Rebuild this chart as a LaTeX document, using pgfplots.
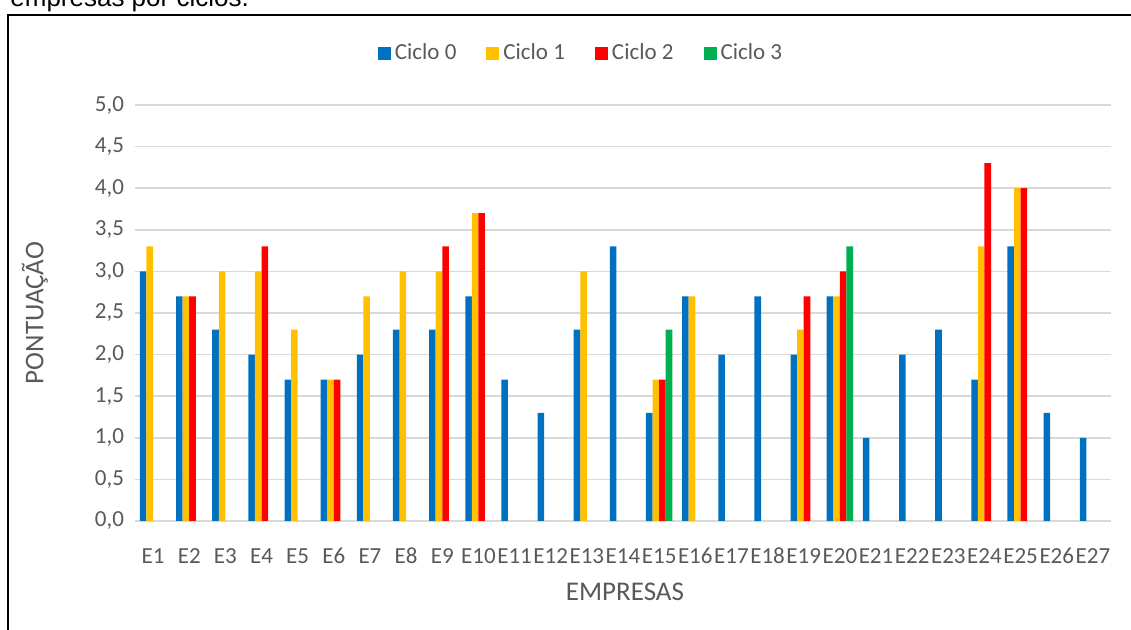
\documentclass[border=0pt]{standalone}
\usepackage{fontspec}
\setmainfont{Carlito}
\newfontfamily\arialfont{Liberation Sans}
\usepackage{pgfplots}
\pgfplotsset{compat=1.18}
\definecolor{c0}{HTML}{0070C0}
\definecolor{c1}{HTML}{FFC000}
\definecolor{c2}{HTML}{FF0000}
\definecolor{c3}{HTML}{00B050}
\definecolor{txt}{HTML}{595959}
\definecolor{gridc}{HTML}{D9D9D9}
\begin{document}
\begin{tikzpicture}
\useasboundingbox (0,0) rectangle (565.5pt,-315pt);
\node[anchor=base west, inner sep=0, font=\arialfont\fontsize{13}{15}\selectfont] at (5pt,-3.5pt) {empresas por ciclos.};
\draw[line width=1pt] (4.2pt,-330pt) -- (4.2pt,-7.3pt) -- (580pt,-7.3pt);
\begin{axis}[
  at={(67.5pt,-260.5pt)}, anchor=south west,
  scale only axis, width=488pt, height=208pt,
  xmin=0.5, xmax=27.5, ymin=0, ymax=5,
  ybar=0pt, bar width=0.182,
  axis line style={draw=none},
  xtick={1,...,27},
  xticklabels={E1,E2,E3,E4,E5,E6,E7,E8,E9,E10,E11,E12,E13,E14,E15,E16,E17,E18,E19,E20,E21,E22,E23,E24,E25,E26,E27},
  ytick={0,0.5,...,5},
  tick style={draw=none},
  ymajorgrids, grid style={gridc, line width=0.75pt},
  tick label style={font=\fontsize{11.5}{13}\selectfont, text=txt},
  /pgf/number format/assume math mode=true,
  yticklabel style={xshift=-2pt, /pgf/number format/.cd, use comma, fixed, fixed zerofill, precision=1},
  xticklabel style={inner xsep=0pt, anchor=base, yshift=-17pt},
  label style={font=\fontsize{13.5}{15}\selectfont, text=txt},
  ylabel={PONTUAÇÃO},
  ylabel style={at={(axis description cs:-0.1025,0.5)}, anchor=center},
  xlabel={EMPRESAS},
  xlabel style={at={(axis description cs:0.502,-0.1707)}, anchor=center},
  legend columns=4,
  legend style={draw=none, fill=none, at={(axis description cs:0.458,1.125)}, anchor=center,
    font=\fontsize{11.5}{13}\selectfont, text=txt,
    /tikz/every even column/.append style={column sep=13pt}},
  legend image code/.code={\fill[#1] (0pt,-3.25pt) rectangle (6.5pt,3.25pt);},
]
\addplot[fill=c0, draw=none] coordinates {(1,3.0)(2,2.7)(3,2.3)(4,2.0)(5,1.7)(6,1.7)(7,2.0)(8,2.3)(9,2.3)(10,2.7)(11,1.7)(12,1.3)(13,2.3)(14,3.3)(15,1.3)(16,2.7)(17,2.0)(18,2.7)(19,2.0)(20,2.7)(21,1.0)(22,2.0)(23,2.3)(24,1.7)(25,3.3)(26,1.3)(27,1.0)};
\addlegendentry{Ciclo 0}
\addplot[fill=c1, draw=none] coordinates {(1,3.3)(2,2.7)(3,3.0)(4,3.0)(5,2.3)(6,1.7)(7,2.7)(8,3.0)(9,3.0)(10,3.7)(13,3.0)(15,1.7)(16,2.7)(19,2.3)(20,2.7)(24,3.3)(25,4.0)};
\addlegendentry{Ciclo 1}
\addplot[fill=c2, draw=none] coordinates {(2,2.7)(4,3.3)(6,1.7)(9,3.3)(10,3.7)(15,1.7)(19,2.7)(20,3.0)(24,4.3)(25,4.0)};
\addlegendentry{Ciclo 2}
\addplot[fill=c3, draw=none] coordinates {(15,2.3)(20,3.3)};
\addlegendentry{Ciclo 3}
\end{axis}
\end{tikzpicture}
\end{document}
